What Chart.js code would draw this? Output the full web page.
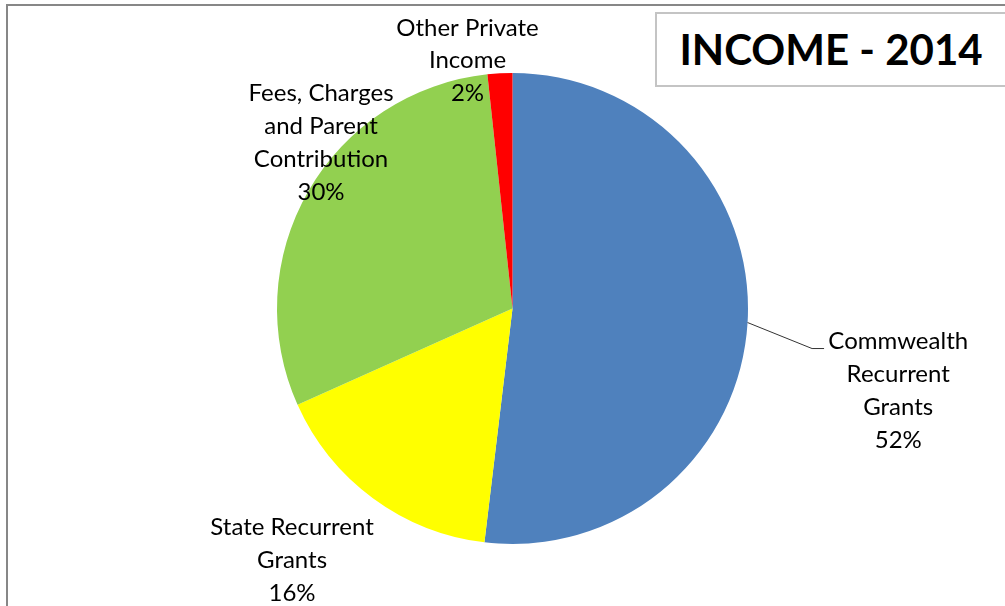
<!DOCTYPE html>
<html>
<head>
<meta charset="utf-8">
<script src="https://cdn.jsdelivr.net/npm/chart.js@4/dist/chart.umd.min.js"></script>
<style>
  html, body { margin: 0; padding: 0; background: #fff; overflow: hidden; }
  #wrap { position: relative; width: 1005px; height: 606px; }
  #frame { position: absolute; left: 6px; top: 4px; width: 1100px; height: 700px;
           border: 2px solid #878787; box-sizing: border-box; pointer-events: none; }
  #titlebox { position: absolute; left: 655px; top: 12px; width: 360px; height: 75px;
              border: 2px solid #c4c4c4; box-sizing: border-box; background: #fff; }
  #titlebox span { position: absolute; left: 0; width: 348px; top: 0; height: 71px; line-height: 71px;
              text-align: center; font-family: Lato, sans-serif; font-weight: bold; font-size: 42px; color: #000; }
  canvas { position: absolute; left: 0; top: 0; }
</style>
</head>
<body>
<div id="wrap">
  <canvas id="c" width="1005" height="606"></canvas>
  <div id="frame"></div>
  <div id="titlebox"><span>INCOME - 2014</span></div>
</div>
<script>
const categories = [
  ["Commwealth", "Recurrent", "Grants"],
  ["State Recurrent", "Grants"],
  ["Fees, Charges", "and Parent", "Contribution"],
  ["Other Private", "Income"]
];
const values = [51.9, 16.4, 30.0, 1.7];
const colors = ["#4F81BD", "#FFFF00", "#92D050", "#FF0000"];

// label block centres relative to pie centre, in units of the outer radius (layout only)
const labelOffsets = [[1.638, 0.345], [-0.936, 1.064], [-0.813, -0.708], [-0.191, -1.057]];
const leaderFor = 0; // label with leader line
const leaderPts = [[1.272, 0.170], [1.323, 0.170]];

const labelPlugin = {
  id: 'pieLabels',
  afterDatasetsDraw(chart) {
    const ctx = chart.ctx;
    const meta = chart.getDatasetMeta(0);
    const total = values.reduce((a, b) => a + b, 0);
    ctx.save();
    ctx.font = '24px Lato, sans-serif';
    ctx.fillStyle = '#000';
    ctx.textAlign = 'center';
    ctx.textBaseline = 'middle';
    const lh = 32.7;
    meta.data.forEach((arc, i) => {
      const r = arc.outerRadius, cx = arc.x, cy = arc.y;
      const lines = categories[i].concat([Math.round(values[i] / total * 100) + '%']);
      const bx = cx + labelOffsets[i][0] * r;
      const by = cy + labelOffsets[i][1] * r;
      const y0 = by - (lines.length - 1) * lh / 2;
      lines.forEach((t, k) => ctx.fillText(t, bx, y0 + k * lh + 1));
      if (i === leaderFor) {
        const mid = (arc.startAngle + arc.endAngle) / 2;
        ctx.beginPath();
        ctx.strokeStyle = '#333';
        ctx.lineWidth = 1;
        ctx.moveTo(cx + Math.cos(mid) * r, cy + Math.sin(mid) * r);
        leaderPts.forEach(p => ctx.lineTo(cx + p[0] * r, cy + p[1] * r));
        ctx.stroke();
      }
    });
    ctx.restore();
  }
};

new Chart(document.getElementById('c'), {
  type: 'pie',
  data: {
    labels: categories.map(l => l.join(' ')),
    datasets: [{ data: values, backgroundColor: colors, borderWidth: 0 }]
  },
  options: {
    responsive: false,
    animation: false,
    layout: { padding: { top: 73, bottom: 62, left: 277, right: 257 } },
    plugins: { legend: { display: false }, tooltip: { enabled: false } }
  },
  plugins: [labelPlugin]
});
</script>
</body>
</html>
